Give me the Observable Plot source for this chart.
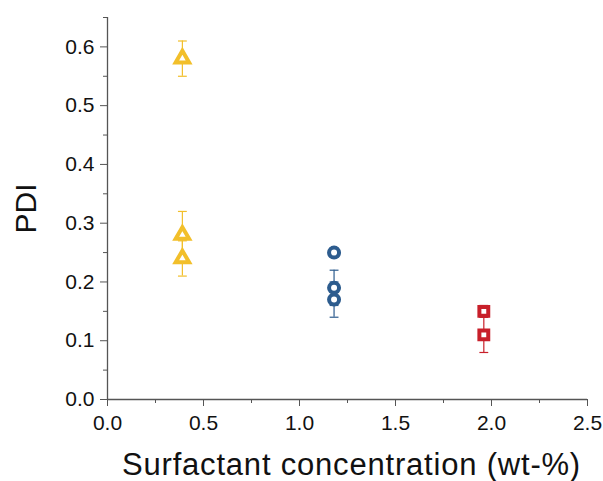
<!DOCTYPE html>
<html>
<head>
<meta charset="utf-8">
<script src="https://cdn.jsdelivr.net/npm/d3@7"></script>
<script src="https://cdn.jsdelivr.net/npm/@observablehq/plot@0.6"></script>
<style>
  html, body { margin: 0; padding: 0; background: #fff; }
  svg { font-family: "Liberation Sans", Arial, sans-serif; }
  .xtitle text { letter-spacing: 0.8px; }
</style>
</head>
<body>
<div id="chart"></div>
<script>
// Series data
const seriesNames = ["low", "mid", "high"];
const seriesColors = ["#f2bf2a", "#2d5c8e", "#c81f2a"];
const seriesSymbols = ["triangle", "circle", "square"];

const lowX = [0.39, 0.39, 0.39];
const lowPDI = [0.58, 0.28, 0.24];
const lowErr = [0.03, 0.04, 0.03];

const midX = [1.18, 1.18, 1.18];
const midPDI = [0.25, 0.19, 0.17];
const midErr = [0.008, 0.03, 0.03];

const highX = [1.96, 1.96];
const highPDI = [0.15, 0.11];
const highErr = [0.01, 0.03];

const xMajorTicks = [0, 0.5, 1.0, 1.5, 2.0, 2.5];
const xMinorTicks = [0.25, 0.75, 1.25, 1.75, 2.25];
const yMajorTicks = [0, 0.1, 0.2, 0.3, 0.4, 0.5, 0.6];
const yMinorTicks = [0.05, 0.15, 0.25, 0.35, 0.45, 0.55, 0.65];

const xTitle = "Surfactant concentration (wt-%)";
const yTitle = "PDI";

// Build table
const groups = [[lowX, lowPDI, lowErr], [midX, midPDI, midErr], [highX, highPDI, highErr]];
const data = [];
groups.forEach(([xs, ys, es], gi) => {
  xs.forEach((x, i) => data.push({
    series: seriesNames[gi], color: seriesColors[gi], symbol: seriesSymbols[gi],
    x, y: ys[i], lo: ys[i] - es[i], hi: ys[i] + es[i]
  }));
});
const caps = data.flatMap(d => [{x: d.x, y: d.lo, color: d.color}, {x: d.x, y: d.hi, color: d.color}]);

const capSymbol = {
  draw(context, size) {
    const w = Math.sqrt(size) / 2;
    context.moveTo(-w, 0);
    context.lineTo(w, 0);
  }
};

const axisColor = "#555";
const chart = Plot.plot({
  width: 603,
  height: 481,
  marginLeft: 107,
  marginRight: 16,
  marginTop: 17,
  marginBottom: 82,
  x: {domain: [0, 2.5]},
  y: {domain: [0, 0.65]},
  marks: [
    Plot.axisX({ticks: xMinorTicks, tickSize: 4, tickFormat: () => "", label: null, stroke: axisColor}),
    Plot.axisX({ticks: xMajorTicks, tickSize: 7, tickPadding: 9, tickFormat: d3.format(".1f"),
      fontSize: 21, label: null, stroke: axisColor, fill: "#111"}),
    Plot.axisY({ticks: yMinorTicks, tickSize: 4, tickFormat: () => "", label: null, stroke: axisColor}),
    Plot.axisY({ticks: yMajorTicks, tickSize: 7, tickPadding: 6, tickFormat: d3.format(".1f"),
      fontSize: 21, label: null, stroke: axisColor, fill: "#111"}),
    Plot.ruleY([0], {stroke: axisColor, strokeWidth: 1.3}),
    Plot.ruleX([0], {stroke: axisColor, strokeWidth: 1.3}),
    Plot.ruleX(data, {x: "x", y1: "lo", y2: "hi", stroke: "color", strokeWidth: 1.2}),
    Plot.dot(caps, {x: "x", y: "y", symbol: capSymbol, r: 5, stroke: "color", strokeWidth: 1.2}),
    Plot.dot(data, {x: "x", y: "y", symbol: "symbol", r: 5, stroke: "color", fill: "white", strokeWidth: 4}),
    Plot.text([xTitle], {frameAnchor: "bottom", dy: 75, dx: 4, fontSize: 31, fill: "#111", className: "xtitle"}),
    Plot.text([yTitle], {frameAnchor: "left", textAnchor: "middle", dx: -81, rotate: -90, fontSize: 30, fill: "#111"})
  ]
});
document.getElementById("chart").appendChild(chart);
</script>
</body>
</html>
